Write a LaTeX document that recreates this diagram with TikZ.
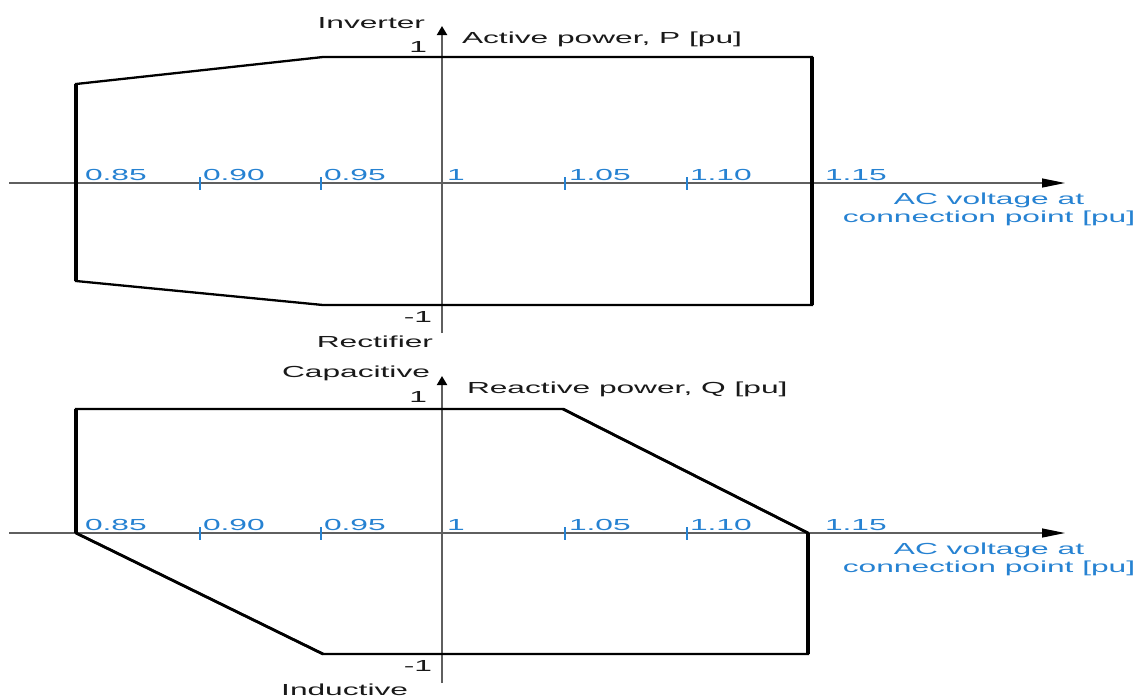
\documentclass[tikz,border=0pt]{standalone}
\usepackage{fontspec}
\setmainfont[FakeStretch=1.98]{Liberation Sans}
\usetikzlibrary{arrows.meta}
\definecolor{lblblue}{RGB}{38,130,210}
\definecolor{axgray}{RGB}{95,95,95}
\definecolor{txt}{RGB}{25,25,25}
\tikzset{
  lbl/.style={font=\fontsize{16}{18}\selectfont, text=txt, inner sep=0pt, outer sep=0pt},
  num/.style={lbl, text=lblblue},
  haxis/.style={draw=axgray, line width=1.2pt, -{Triangle[length=23pt,width=9pt,color=black]}},
  vaxis/.style={draw=axgray, line width=2pt, -{Triangle[length=9pt,width=10pt,color=black]}},
  boxline/.style={line width=2.3pt, black, line join=miter},
  vbar/.style={line width=3.6pt, black},
  slant/.style={line width=2.8pt, black},
  tickmark/.style={draw=lblblue, line width=1.5pt}
}
\begin{document}
\begin{tikzpicture}[x=1pt,y=-1pt]
\useasboundingbox[fill=white] (0,0) rectangle (1139,697);

% ---------------- top chart ----------------
\coordinate (tx0) at (9,183);
\coordinate (tx1) at (1065,183);
\coordinate (ty0) at (442,333);
\coordinate (ty1) at (442,26);
\draw[haxis] (tx0) -- (tx1);
\draw[vaxis] (ty0) -- (ty1);
\foreach \xx/\nm in {200/a,321/b,565/c,687/d}{
  \coordinate (tt\nm0) at (\xx,177);
  \coordinate (tt\nm1) at (\xx,190);
  \draw[tickmark] (tt\nm0) -- (tt\nm1);
}
\coordinate (tA) at (76,84);
\coordinate (tB) at (323,57);
\coordinate (tC) at (812,57);
\coordinate (tD) at (812,305);
\coordinate (tE) at (323,305);
\coordinate (tF) at (76,281);
\draw[boxline] (tA) -- (tB) -- (tC) -- (tD) -- (tE) -- (tF) -- cycle;
\draw[vbar] (tF) -- (tA);
\draw[vbar] (tC) -- (tD);

\node[lbl, anchor=base east] (inv) at (425,28) {Inverter};
\node[lbl, anchor=base east] (tp1) at (427,52) {1};
\node[lbl, anchor=base west] (ptitle) at (462,43) {Active power, P [pu]};
\node[lbl, anchor=base east] (tm1) at (432,322) {-1};
\node[lbl, anchor=base east] (rect) at (433,347) {Rectifier};
\node[num, anchor=base west] (t085) at (85,180) {0.85};
\node[num, anchor=base west] (t090) at (203,180) {0.90};
\node[num, anchor=base west] (t095) at (324,180) {0.95};
\node[num, anchor=base west] (t100) at (447,180) {1};
\node[num, anchor=base west] (t105) at (569,180) {1.05};
\node[num, anchor=base west] (t110) at (690,180) {1.10};
\node[num, anchor=base west] (t115) at (825,180) {1.15};
\node[num, anchor=base] (tac1) at (989,204) {AC voltage at};
\node[num, anchor=base] (tac2) at (989,222) {connection point [pu]};

% ---------------- bottom chart ----------------
\coordinate (bx0) at (9,533);
\coordinate (bx1) at (1065,533);
\coordinate (by0) at (442,683);
\coordinate (by1) at (442,376);
\draw[haxis] (bx0) -- (bx1);
\draw[vaxis] (by0) -- (by1);
\foreach \xx/\nm in {200/a,321/b,565/c,687/d}{
  \coordinate (bt\nm0) at (\xx,527);
  \coordinate (bt\nm1) at (\xx,540);
  \draw[tickmark] (bt\nm0) -- (bt\nm1);
}
\coordinate (bA) at (76,409);
\coordinate (bB) at (563,409);
\coordinate (bC) at (808,533);
\coordinate (bD) at (808,654);
\coordinate (bE) at (323,654);
\coordinate (bF) at (76,533);
\draw[boxline] (bA) -- (bB) -- (bC) -- (bD) -- (bE) -- (bF) -- cycle;
\draw[slant] (bB) -- (bC);
\draw[slant] (bE) -- (bF);
\draw[vbar] (bF) -- (bA);
\draw[vbar] (bC) -- (bD);

\node[lbl, anchor=base east] (cap) at (430,377) {Capacitive};
\node[lbl, anchor=base east] (bp1) at (427,402) {1};
\node[lbl, anchor=base west] (qtitle) at (467,393) {Reactive power, Q [pu]};
\node[lbl, anchor=base east] (bm1) at (432,671) {-1};
\node[lbl, anchor=base east] (ind) at (408,695) {Inductive};
\node[num, anchor=base west] (b085) at (85,530) {0.85};
\node[num, anchor=base west] (b090) at (203,530) {0.90};
\node[num, anchor=base west] (b095) at (324,530) {0.95};
\node[num, anchor=base west] (b100) at (447,530) {1};
\node[num, anchor=base west] (b105) at (569,530) {1.05};
\node[num, anchor=base west] (b110) at (690,530) {1.10};
\node[num, anchor=base west] (b115) at (825,530) {1.15};
\node[num, anchor=base] (bac1) at (989,554) {AC voltage at};
\node[num, anchor=base] (bac2) at (989,572) {connection point [pu]};
\end{tikzpicture}
\end{document}
